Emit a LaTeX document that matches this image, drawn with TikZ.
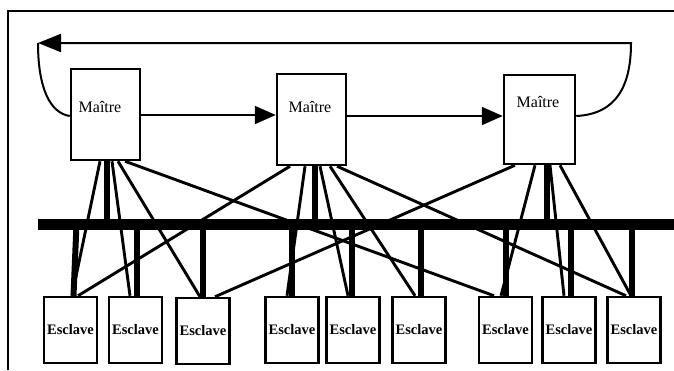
\documentclass[tikz,border=0pt]{standalone}
\usepackage{fontspec}
\setmainfont{Liberation Serif}
\usetikzlibrary{arrows.meta,calc}
\begin{document}
\begin{tikzpicture}[x=1pt,y=-1pt,
  master/.style={draw,line width=2.5pt,minimum width=69pt,minimum height=91pt,inner sep=0pt},
  slave/.style={draw,line width=2.5pt,minimum width=53pt,minimum height=66pt,inner sep=0pt,font=\fontsize{14.5}{14.5}\selectfont\bfseries},
  mtext/.style={inner sep=0pt,font=\fontsize{16}{16}\selectfont},
  link/.style={line width=2.9pt},
  drop/.style={line width=6pt},
  bus/.style={line width=11pt},
  arr/.style={line width=2pt,-{Triangle[length=21pt,width=18pt]}},
  frameline/.style={line width=2pt}]
\useasboundingbox (0,0) rectangle (674,370);
% frame
\coordinate (fA) at (8,370);
\coordinate (fB) at (8,11);
\coordinate (fC) at (674,11);
\draw[frameline] (fA) -- (fB) -- (fC);
% masters
\node[master] (m1) at (105.5,114.5) {};
\node[master] (m2) at (311.5,119.5) {};
\node[master,minimum width=71pt,minimum height=89pt] (m3) at (539.5,119.5) {};
\node[mtext] (t1) at (100,107) {Maître};
\node[mtext] (t2) at (310,107) {Maître};
\node[mtext] (t3) at (538,102) {Maître};
% slaves
\node[slave] (s1) at (70.5,330) {Esclave};
\node[slave] (s2) at (135.5,330) {Esclave};
\node[slave] (s3) at (203,331) {Esclave};
\node[slave] (s4) at (292,330) {Esclave};
\node[slave] (s5) at (353,330) {Esclave};
\node[slave] (s6) at (419,330) {Esclave};
\node[slave] (s7) at (505.5,330) {Esclave};
\node[slave] (s8) at (569,330) {Esclave};
\node[slave] (s9) at (634,330) {Esclave};
% bus
\coordinate (busL) at (38,224);
\coordinate (busR) at (674,224);
\draw[bus] (busL) -- (busR);
% master drops to bus
\draw[drop] ([xshift=1.5pt]m1.south) -- ([xshift=1.5pt]m1.south |- busL);
\draw[drop] ([xshift=3.5pt]m2.south) -- ([xshift=3.5pt]m2.south |- busL);
\draw[drop] ([xshift=7.5pt]m3.south) -- ([xshift=7.5pt]m3.south |- busL);
% slave drops from bus
\draw[drop] ([xshift=6pt]s1.north |- busL) -- ([xshift=3pt]s1.north);
\draw[drop] ([xshift=1.5pt]s2.north |- busL) -- ([xshift=1.5pt]s2.north);
\draw[drop] (s3.north |- busL) -- (s3.north);
\draw[drop] (s4.north |- busL) -- (s4.north);
\draw[drop] ([xshift=-1pt]s5.north |- busL) -- ([xshift=-1pt]s5.north);
\draw[drop] ([xshift=2pt]s6.north |- busL) -- ([xshift=2pt]s6.north);
\draw[drop] ([xshift=0.5pt]s7.north |- busL) -- ([xshift=0.5pt]s7.north);
\draw[drop] ([xshift=2pt]s8.north |- busL) -- ([xshift=2pt]s8.north);
\draw[drop] ([xshift=-2pt]s9.north |- busL) -- ([xshift=-2pt]s9.north);
% links master 1
\draw[link] ([xshift=-5.5pt]m1.south) -- ([xshift=1.5pt]s1.north);
\draw[link] ([xshift=6.5pt]m1.south) -- ([xshift=-5.5pt]s2.north);
\draw[link] ([xshift=12.5pt]m1.south) -- ([xshift=-3pt]s3.north);
\draw[link] ([xshift=19.5pt]m1.south) -- ([xshift=-11.5pt]s7.north);
% links master 2
\draw[link] ([xshift=-21.5pt]m2.south) -- ([xshift=7.5pt]s1.north);
\draw[link] ([xshift=-6.5pt]m2.south) -- ([xshift=-5pt]s4.north);
\draw[link] ([xshift=8.5pt]m2.south) -- ([xshift=-5pt]s5.north);
\draw[link] ([xshift=18.5pt]m2.south) -- ([xshift=-4pt]s6.north);
\draw[link] ([xshift=25.5pt]m2.south) -- ([xshift=-8pt]s9.north);
% links master 3
\draw[link] ([xshift=-24.5pt]m3.south) -- ([xshift=12pt]s3.north);
\draw[link] ([xshift=-4.5pt]m3.south) -- ([xshift=-4.5pt]s7.north);
\draw[link] ([xshift=10.5pt]m3.south) -- ([xshift=-5pt]s8.north);
\draw[link] ([xshift=20.5pt]m3.south) -- ([xshift=-3pt]s9.north);
% ring arrows
\draw[arr] ([yshift=-0.5pt]m1.east) -- ([yshift=-0.5pt]m1.east -| m2.west);
\draw[arr] ([yshift=3.5pt]m2.east) -- ([yshift=3.5pt]m2.east -| m3.west);
\coordinate (fbR) at (631,43);
\coordinate (fbL) at (38,43);
\draw[arr,-{Triangle[length=23pt,width=18pt]}] ([yshift=3.5pt]m3.east) .. controls (617,114) and (631,85) .. (fbR) -- (fbL);
\draw[line width=2pt] (fbL) .. controls (38,88) and (50,113) .. ([yshift=-1.5pt]m1.west);
\end{tikzpicture}
\end{document}
